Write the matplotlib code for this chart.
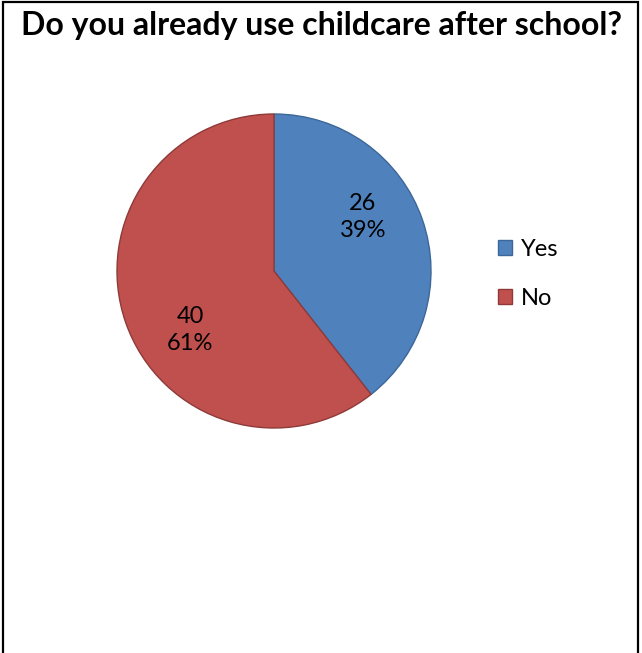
import matplotlib.pyplot as plt
from matplotlib.patches import Rectangle

# Survey answers
labels = ["Yes", "No"]
counts = [26, 40]
colors = ["#4F81BD", "#C0504D"]
edges = ["#3C6798", "#8E3A38"]

W, H = 642, 653
fig = plt.figure(figsize=(W / 100, H / 100), dpi=100)
plt.rcParams['font.family'] = ['Lato', 'DejaVu Sans']

# outer frame (bottom edge is cut off in the original)
fig.patches.append(Rectangle((3 / W, -0.05), 635 / W, 1.05 - 2 / H,
                             transform=fig.transFigure, fill=False,
                             edgecolor="black", linewidth=1.6))

fig.text(322 / W, 1 - 26 / H, "Do you already use childcare after school?",
         ha="center", va="center", fontsize=23, fontweight="bold")

cx, cy, r = 274, 271, 157
ax = fig.add_axes([(cx - r) / W, (H - cy - r) / H, 2 * r / W, 2 * r / H])

total = sum(counts)
wedges, texts = ax.pie(counts, colors=colors, startangle=90, counterclock=False,
                       radius=1.0, labels=None,
                       wedgeprops=dict(linewidth=1.0))
for w, e in zip(wedges, edges):
    w.set_edgecolor(e)

# data labels: value and percentage
label_pos = [(363, 217), (190, 330)]
for c, (px, py) in zip(counts, label_pos):
    fig.text(px / W, 1 - py / H, f"{c}\n{round(100 * c / total)}%",
             ha="center", va="center", fontsize=17, linespacing=1.4)

ax.set_xlim(-1, 1)
ax.set_ylim(-1, 1)

leg = fig.legend(wedges, labels, loc="upper left",
                 bbox_to_anchor=(477 / W, 1 - 218 / H), frameon=False,
                 fontsize=17, handlelength=0.6, handleheight=0.6,
                 handletextpad=0.35, labelspacing=1.17)

fig.savefig("out.png", dpi=100)
